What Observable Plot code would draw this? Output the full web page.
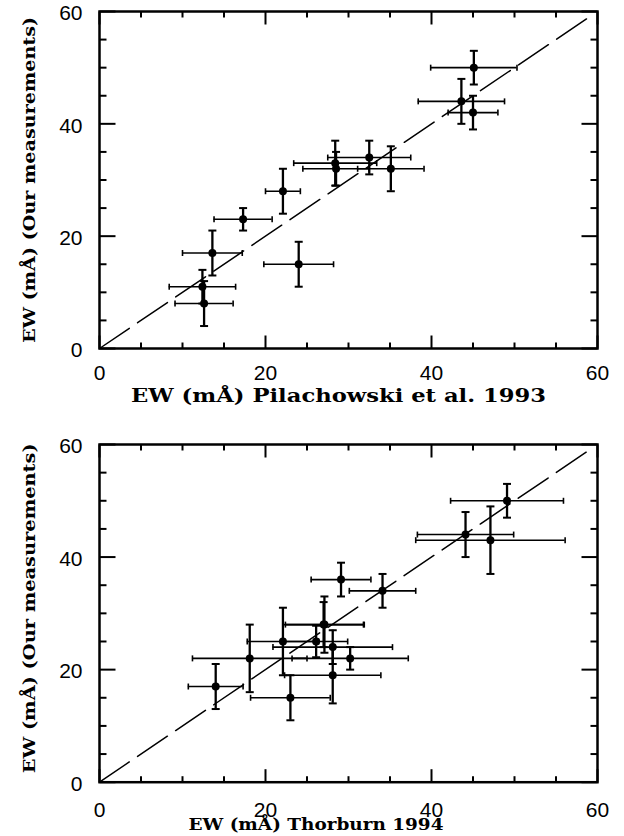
<!DOCTYPE html>
<html><head><meta charset="utf-8">
<script src="https://cdn.jsdelivr.net/npm/d3@7"></script>
<script src="https://cdn.jsdelivr.net/npm/@observablehq/plot@0.6"></script>
<style>
body{margin:0;background:#fff}
#chart{width:624px}
#chart svg{display:block}
</style>
</head><body><div id="chart"></div>
<script>
// ---- Top panel: Pilachowski et al. 1993 ----
const pilX    = [12.4, 12.6, 13.6, 17.3, 22.1, 24.0, 28.4, 28.5, 32.5, 35.1, 43.6, 45.0, 45.1];
const pilY    = [11, 8, 17, 23, 28, 15, 33, 32, 34, 32, 44, 42, 50];
const pilXerr = [4.0, 3.5, 3.6, 3.5, 2.1, 4.2, 5.0, 4.0, 5.0, 4.0, 5.2, 3.0, 5.2];
const pilYerr = [3, 4, 4, 2, 4, 4, 4, 3, 3, 4, 4, 3, 3];

// ---- Bottom panel: Thorburn 1994 ----
const thoX    = [14.0, 18.1, 22.1, 23.0, 26.1, 27.1, 27.0, 28.1, 28.1, 29.1, 30.2, 34.1, 44.1, 47.1, 49.1];
const thoY    = [17, 22, 25, 15, 25, 28, 28, 24, 19, 36, 22, 34, 44, 43, 50];
const thoXerr = [3.3, 6.9, 4.3, 4.8, 3.8, 4.7, 4.9, 7.2, 5.8, 3.6, 7.0, 4.0, 5.8, 9.0, 6.8];
const thoYerr = [4, 6, 6, 4, 2.8, 5, 4, 3, 5, 3, 2, 3, 4, 6, 3];

const axisDomain = [0, 60];
const majorTicks = [0, 20, 40, 60];
const minorTicks = [5, 10, 15, 25, 30, 35, 45, 50, 55];
const oneToOne   = [0, 59];
const yLabel       = "EW (mÅ) (Our measurements)";
const xLabelTop    = "EW (mÅ) Pilachowski et al. 1993";
const xLabelBottom = "EW (mÅ) Thorburn 1994";

const rad = size => Math.sqrt(size / Math.PI);
const vCap = {draw(ctx, s){ const r = rad(s); ctx.moveTo(-r,0); ctx.lineTo(r,0); }};
const hCap = {draw(ctx, s){ const r = rad(s); ctx.moveTo(0,-r); ctx.lineTo(0,r); }};
// filled tick shapes (2px wide bars pointing into the frame)
const tickUp    = {draw(c, s){ const L = rad(s); c.moveTo(-1,0); c.lineTo(1,0); c.lineTo(1,-L); c.lineTo(-1,-L); c.closePath(); }};
const tickDown  = {draw(c, s){ const L = rad(s); c.moveTo(-1,0); c.lineTo(1,0); c.lineTo(1, L); c.lineTo(-1, L); c.closePath(); }};
const tickRight = {draw(c, s){ const L = rad(s); c.moveTo(0,-1); c.lineTo(0,1); c.lineTo( L,1); c.lineTo( L,-1); c.closePath(); }};
const tickLeft  = {draw(c, s){ const L = rad(s); c.moveTo(0,-1); c.lineTo(0,1); c.lineTo(-L,1); c.lineTo(-L,-1); c.closePath(); }};

function panel(X, Y, XE, YE, xLabel, o) {
  const W = 624, ML = 99, MR = 27;
  const [lo, hi] = axisDomain;
  const data = X.map((x, i) => ({x, y: Y[i], xe: XE[i], ye: YE[i]}));
  const line = oneToOne.map(v => ({v}));
  const major = majorTicks.map(v => ({v}));
  const minor = minorTicks.map(v => ({v}));
  const tx = (t, len, at, sym) => Plot.dot(t, {x: "v", y: () => at, symbol: sym, r: len, fill: "black", stroke: "none"});
  const ty = (t, len, at, sym) => Plot.dot(t, {y: "v", x: () => at, symbol: sym, r: len, fill: "black", stroke: "none"});
  const svg = Plot.plot({
    width: W, height: o.height,
    marginTop: o.mt, marginBottom: o.mb, marginLeft: ML, marginRight: MR,
    x: {domain: axisDomain, label: null},
    y: {domain: axisDomain, label: null},
    style: {fontFamily: "'Liberation Sans', Arial, sans-serif", color: "black", background: "white"},
    marks: [
      Plot.line(line, {x: "v", y: "v", stroke: "black", strokeWidth: 1.5, strokeDasharray: "36,10"}),
      Plot.ruleY(data, {y: "y", x1: d => d.x - d.xe, x2: d => d.x + d.xe, stroke: "black", strokeWidth: 1.6}),
      Plot.ruleX(data, {x: "x", y1: d => d.y - d.ye, y2: d => d.y + d.ye, stroke: "black", strokeWidth: 2.3}),
      Plot.dot(data, {x: d => d.x - d.xe, y: "y", symbol: hCap, r: 3, fill: "none", stroke: "black", strokeWidth: 1.6}),
      Plot.dot(data, {x: d => d.x + d.xe, y: "y", symbol: hCap, r: 3, fill: "none", stroke: "black", strokeWidth: 1.6}),
      Plot.dot(data, {x: "x", y: d => d.y - d.ye, symbol: vCap, r: 4, fill: "none", stroke: "black", strokeWidth: 2}),
      Plot.dot(data, {x: "x", y: d => d.y + d.ye, symbol: vCap, r: 4, fill: "none", stroke: "black", strokeWidth: 2}),
      Plot.dot(data, {x: "x", y: "y", r: 4, fill: "black", stroke: "none"}),
      // inward ticks on all four sides
      tx(major, 13, lo, tickUp),   tx(major, 13, hi, tickDown),
      tx(minor, 6,  lo, tickUp),   tx(minor, 6,  hi, tickDown),
      ty(major, 16, lo, tickRight), ty(major, 16, hi, tickLeft),
      ty(minor, 7,  lo, tickRight), ty(minor, 7,  hi, tickLeft),
      Plot.frame({stroke: "black", strokeWidth: 2.5}),
      Plot.axisX(majorTicks, {anchor: "bottom", tickSize: 0, tickPadding: o.xpad, fontSize: 21, label: null}),
      Plot.axisY(majorTicks, {anchor: "left", tickSize: 0, tickPadding: 17, dy: 2, fontSize: 21, label: null}),
      Plot.text([xLabel], {text: d => d, frameAnchor: "bottom", textAnchor: "middle", lineAnchor: "middle",
        dx: o.xdx, dy: o.xdy, fontSize: o.xfs,
        fontFamily: "'DejaVu Serif', serif", fontWeight: "bold", fill: "black"}),
      Plot.text([yLabel], {text: d => d, frameAnchor: "left", textAnchor: "middle", lineAnchor: "middle",
        rotate: -90, dx: -70, dy: o.ydy, fontSize: 17,
        fontFamily: "'DejaVu Serif', serif", fontWeight: "bold", fill: "black"})
    ]
  });
  const texts = d3.select(svg).selectAll("text");
  texts.filter(function(){ return this.textContent === xLabel; })
    .attr("textLength", o.xlen).attr("lengthAdjust", "spacingAndGlyphs");
  texts.filter(function(){ return this.textContent === yLabel; })
    .attr("textLength", o.ylen).attr("lengthAdjust", "spacingAndGlyphs");
  return svg;
}

const chart = document.getElementById("chart");
chart.append(panel(pilX, pilY, pilXerr, pilYerr, xLabelTop,
  {height: 418, mt: 11, mb: 70, xpad: 17, xdx: -10, xdy: 48, xfs: 18, xlen: 415, ydy: 0, ylen: 326}));
chart.append(panel(thoX, thoY, thoXerr, thoYerr, xLabelBottom,
  {height: 418, mt: 26, mb: 54.3, xpad: 20, xdx: -32.5, xdy: 43, xfs: 16.5, xlen: 255, ydy: -5, ylen: 330}));
</script>
</body></html>
